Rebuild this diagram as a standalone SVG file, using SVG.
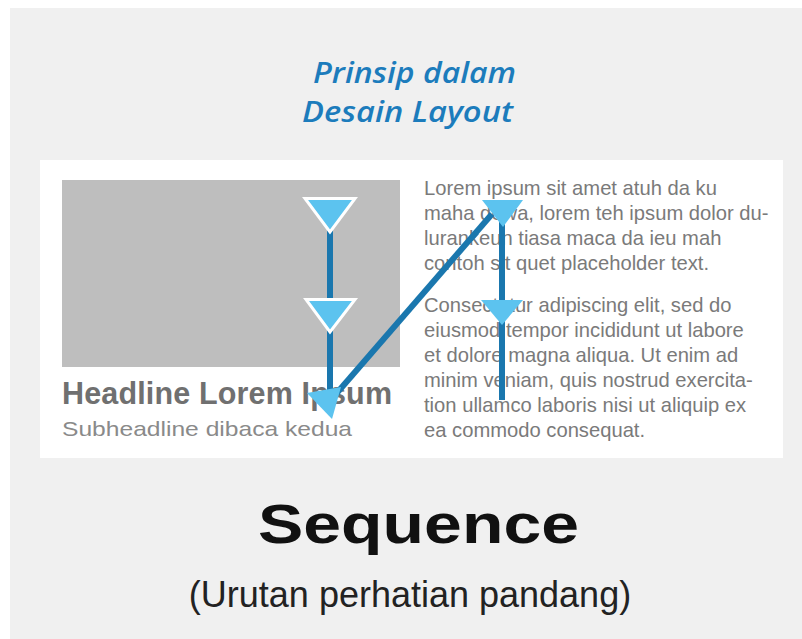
<svg xmlns="http://www.w3.org/2000/svg" width="802" height="639" viewBox="0 0 802 639">
<style>
.title{font-family:"Open Sans","Noto Sans",sans-serif;font-style:italic;font-weight:600;font-size:29px;fill:#1c7cbc}
.body{font-family:"Liberation Sans",Arial,sans-serif;font-size:20.2px;fill:#7a7a7a}
.line{stroke:#1a77ae;stroke-width:6;fill:none}
.tri{fill:#5cc3ef}
.tri-w{fill:#5cc3ef;stroke:#ffffff;stroke-width:3;stroke-linejoin:miter}
</style>
<rect x="0" y="0" width="802" height="639" fill="#ffffff"/>
<rect x="10" y="8" width="792" height="631" fill="#f0f0f0"/>
<g id="title">
<text class="title" x="313" y="83" textLength="203" lengthAdjust="spacingAndGlyphs">Prinsip dalam</text>
<text class="title" x="302" y="122" textLength="211" lengthAdjust="spacingAndGlyphs">Desain Layout</text>
</g>
<g id="panel">
<rect x="40" y="160" width="743" height="298" fill="#ffffff"/>
</g>
<g id="image">
<rect x="62" y="180" width="338" height="187" fill="#bebebe"/>
</g>
<g id="headline">
<text x="62" y="404" font-family="Liberation Sans, Arial, sans-serif" font-weight="bold" font-size="30.5" fill="#707070" textLength="330">Headline Lorem Ipsum</text>
<text x="62" y="436" font-family="Liberation Sans, Arial, sans-serif" font-size="21" fill="#8a8a8a" textLength="290" lengthAdjust="spacingAndGlyphs">Subheadline dibaca kedua</text>
</g>
<g id="body-text" class="body">
<text x="424" y="195">Lorem ipsum sit amet atuh da ku</text>
<text x="424" y="220">maha dewa, lorem teh ipsum dolor du-</text>
<text x="424" y="245">lurankeun tiasa maca da ieu mah</text>
<text x="424" y="270">contoh sit quet placeholder text.</text>
<text x="424" y="312">Consectetur adipiscing elit, sed do</text>
<text x="424" y="337">eiusmod tempor incididunt ut labore</text>
<text x="424" y="362">et dolore magna aliqua. Ut enim ad</text>
<text x="424" y="387">minim veniam, quis nostrud exercita-</text>
<text x="424" y="412">tion ullamco laboris nisi ut aliquip ex</text>
<text x="424" y="437">ea commodo consequat.</text>
</g>
<g id="connectors">
<line class="line" x1="330" y1="228" x2="330" y2="395"/>
<line class="line" x1="502" y1="222" x2="502" y2="400"/>
<line class="line" x1="492" y1="214" x2="336" y2="394"/>
</g>
<g id="markers">
<polygon class="tri-w" points="305,198.5 355,198.5 330,232"/>
<polygon class="tri-w" points="306,299.5 355,299.5 330,332"/>
<polygon class="tri" points="307,393 341,387 332,419"/>
<polygon class="tri" points="482,200 523,200 503,227"/>
<polygon class="tri" points="481,300 523,300 502,325"/>
</g>
<g id="label">
<text x="258" y="543" font-family="Liberation Sans, Arial, sans-serif" font-weight="bold" font-size="56" fill="#111111" textLength="321" lengthAdjust="spacingAndGlyphs">Sequence</text>
<text x="410" y="607" font-family="Liberation Sans, Arial, sans-serif" font-size="36" fill="#222222" text-anchor="middle">(Urutan perhatian pandang)</text>
</g>
</svg>
